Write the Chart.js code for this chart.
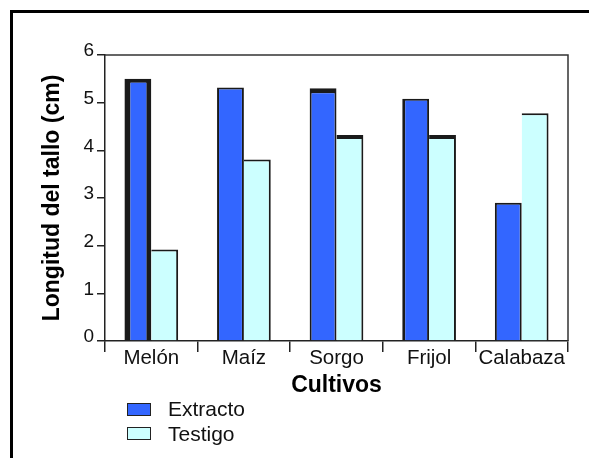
<!DOCTYPE html>
<html>
<head>
<meta charset="utf-8">
<script src="https://cdn.jsdelivr.net/npm/chart.js@4/dist/chart.umd.min.js"></script>
<style>
  html, body { margin: 0; padding: 0; background: #fff; }
  #wrap { position: relative; width: 589px; height: 458px; overflow: hidden; }
  #frame { position: absolute; left: 10px; top: 10px; width: 600px; height: 480px;
           border-left: 3px solid #000; border-top: 3px solid #000; box-sizing: border-box; }
  canvas { position: absolute; left: 0; top: 0; }
  #legend { position: absolute; left: 127px; top: 397px; font-family: "Liberation Sans", Arial, sans-serif;
            font-size: 21px; color: #111; }
  .item { display: flex; align-items: center; height: 24.5px; }
  .sw { width: 22px; height: 11px; border: 1.5px solid #222; margin-right: 17px; }
</style>
</head>
<body>
<div id="wrap">
  <div id="frame"></div>
  <canvas id="c" width="589" height="458"></canvas>
  <div id="legend"></div>
</div>
<script>
// Stem length per crop, with plant extract vs. control
const cultivos = ['Melón', 'Maíz', 'Sorgo', 'Frijol', 'Calabaza'];
const extracto = [5.5, 5.32, 5.3, 5.08, 2.9];
const testigo = [1.92, 3.81, 4.32, 4.32, 4.78];
const yTicks = [0, 1, 2, 3, 4, 5, 6];

const FONT = '"Liberation Sans", Arial, sans-serif';
const BLUE = '#3366ff';
const CYAN = '#ccffff';
const EDGE = '#1a1a1a';

// Heavier dark edges on some bars
const extractoBorders = [
  {left: 6, right: 5, top: 4, bottom: 0},
  {left: 2, right: 2, top: 2, bottom: 0},
  {left: 2, right: 2, top: 5, bottom: 0},
  {left: 3, right: 2, top: 2, bottom: 0},
  {left: 2, right: 2, top: 2, bottom: 0}
];
const testigoBorders = [
  {left: 0, right: 2, top: 2, bottom: 0},
  {left: 0, right: 2, top: 2, bottom: 0},
  {left: 0, right: 2, top: 4, bottom: 0},
  {left: 0, right: 2, top: 4, bottom: 0},
  {left: 0, right: 2, top: 2, bottom: 0}
];

// Box around the plotting area
const frameBox = {
  id: 'frameBox',
  afterDatasetsDraw(chart) {
    const {ctx, chartArea: a} = chart;
    ctx.save();
    ctx.strokeStyle = '#333';
    ctx.lineWidth = 1.5;
    ctx.beginPath();
    ctx.moveTo(a.left, a.top);
    ctx.lineTo(a.right, a.top);
    ctx.lineTo(a.right, a.bottom);
    ctx.stroke();
    ctx.restore();
  }
};

const chart = new Chart(document.getElementById('c'), {
  type: 'bar',
  data: {
    labels: cultivos,
    datasets: [
      { label: 'Extracto', data: extracto, backgroundColor: BLUE, borderColor: EDGE,
        borderWidth: extractoBorders, borderSkipped: false },
      { label: 'Testigo', data: testigo, backgroundColor: CYAN, borderColor: EDGE,
        borderWidth: testigoBorders, borderSkipped: false }
    ]
  },
  options: {
    responsive: false,
    animation: false,
    devicePixelRatio: 1,
    layout: { padding: { left: 0, top: 55, right: 21, bottom: 0 } },
    datasets: { bar: { categoryPercentage: 0.58, barPercentage: 1 } },
    plugins: { legend: { display: false }, tooltip: { enabled: false } },
    scales: {
      x: {
        grid: { offset: true, drawOnChartArea: false, drawTicks: true, tickLength: 11, color: '#222', lineWidth: 1.5 },
        border: { display: true, color: '#222', width: 1.5 },
        ticks: { color: '#111', font: { family: FONT, size: 20.5 }, padding: -6, maxRotation: 0, autoSkip: false },
        title: { display: true, text: 'Cultivos', color: '#000',
                 font: { family: FONT, size: 23, weight: 'bold' }, padding: { top: 0, bottom: 59 } },
        afterFit(s) { s.height = 117; }
      },
      y: {
        min: 0, max: 6,
        afterBuildTicks(s) { s.ticks = yTicks.map(v => ({ value: v })); },
        grid: { drawOnChartArea: false, drawTicks: true, tickLength: 8, color: '#222', lineWidth: 1.5 },
        border: { display: true, color: '#222', width: 1.5 },
        ticks: { color: '#111', font: { family: FONT, size: 19 }, padding: 3, labelOffset: -4 },
        title: { display: true, text: 'Longitud del tallo (cm)', color: '#000',
                 font: { family: FONT, size: 23, weight: 'bold' }, padding: { top: 39, bottom: 0 } },
        afterFit(s) { s.width = 105; }
      }
    }
  },
  plugins: [frameBox]
});

// Legend built from the chart's datasets
const legend = document.getElementById('legend');
chart.data.datasets.forEach(ds => {
  const row = document.createElement('div');
  row.className = 'item';
  const sw = document.createElement('div');
  sw.className = 'sw';
  sw.style.background = ds.backgroundColor;
  const tx = document.createElement('span');
  tx.textContent = ds.label;
  row.appendChild(sw);
  row.appendChild(tx);
  legend.appendChild(row);
});
</script>
</body>
</html>
